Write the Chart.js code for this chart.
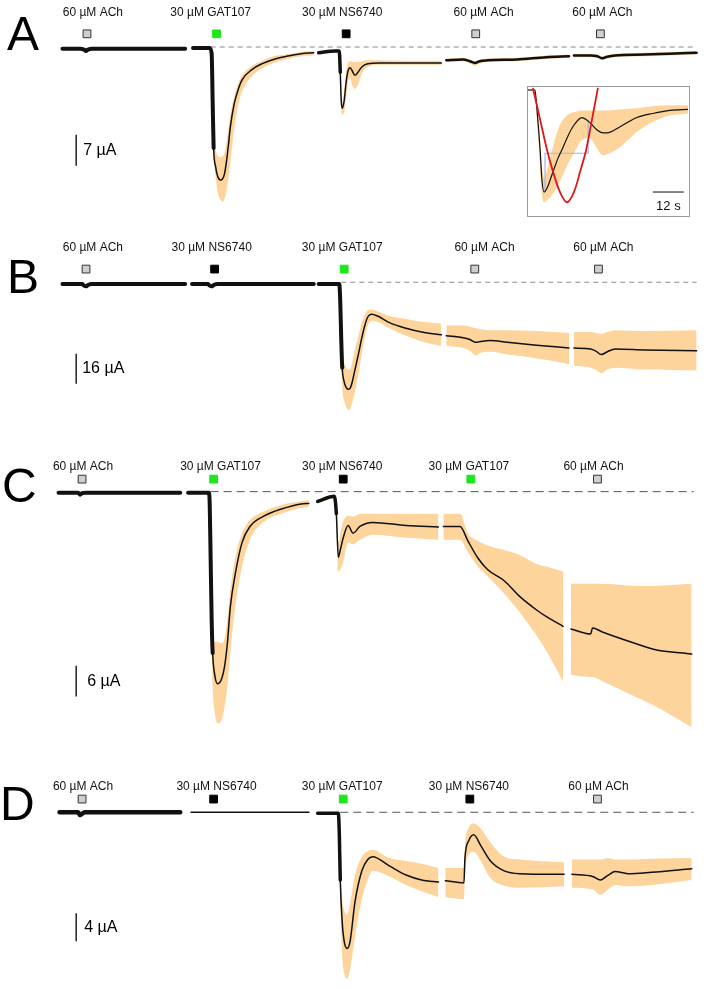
<!DOCTYPE html>
<html>
<head>
<meta charset="utf-8">
<script src="https://cdn.jsdelivr.net/npm/chart.js@4.4.0/dist/chart.umd.min.js"></script>
<style>
  html, body { margin: 0; padding: 0; background: #fff; }
  body { position: relative; width: 709px; height: 989px; overflow: hidden; }
  canvas { position: absolute; left: 0; }
  #inset { position: absolute; left: 527px; top: 86px; width: 163px; height: 131px;
           border: 1px solid #9a9a9a; box-sizing: border-box; background: #fff; }
  #inset canvas { top: 0; }
</style>
</head>
<body>
<canvas id="pA" width="709" height="225" style="top:0px"></canvas>
<canvas id="pB" width="709" height="215" style="top:225px"></canvas>
<canvas id="pC" width="709" height="330" style="top:440px"></canvas>
<canvas id="pD" width="709" height="219" style="top:770px"></canvas>
<div id="inset"><canvas id="pI" width="161" height="129"></canvas></div>

<script>
// === Data (time in s, current in µA, null = break between recordings) ===

// Panel A
const tA    = [2,20,24,26,28,32,127, 130,
  135,152,154,155,156,158,160,163,165,167,169,171,173,177,181,185,195,205,217,230,245,258, 261,
  263,280,284,285,286,287,289,291,293,295,297,300,303,307,313,325,345,365,388, 390,
  393,410,417,422,427,435,465,495,518, 520,
  523,540,547,552,557,565,595,620,648];
const meanA = [-0.4,-0.4,-0.6,-0.9,-0.6,-0.4,-0.4, null,
  -0.2,-0.2,-1.5,-12.1,-22.8,-27.0,-29.1,-30.0,-29.8,-28.7,-26.0,-22.3,-18.1,-12.8,-9.6,-7.4,-5.1,-3.8,-2.8,-2.1,-1.5,-1.3, null,
  -1.3,-0.9,-0.9,-5.7,-12.1,-13.8,-12.1,-7.9,-5.3,-4.7,-5.3,-6.4,-5.7,-4.5,-3.8,-3.6,-3.6,-3.6,-3.6, null,
  -3.0,-2.8,-3.2,-3.6,-3.2,-3.0,-2.8,-2.3,-2.1, null,
  -1.9,-1.9,-2.1,-2.55,-2.2,-1.9,-1.7,-1.5,-1.3];
const hiA   = [-0.2,-0.2,-0.4,-0.6,-0.3,-0.2,-0.2, null,
  -0.1,-0.1,-0.9,-11.1,-20.6,-23.2,-24.5,-24.9,-24.7,-24.0,-21.7,-18.5,-15.3,-11.1,-8.3,-6.4,-4.3,-3.2,-2.1,-1.7,-1.1,-0.9, null,
  -1.1,-0.7,-0.6,-4.7,-11.1,-12.8,-10.0,-5.3,-3.6,-3.2,-3.3,-3.4,-3.3,-3.2,-3.0,-3.0,-3.1,-3.1,-3.1, null,
  -2.6,-2.4,-2.8,-3.2,-2.8,-2.6,-2.4,-1.9,-1.7, null,
  -1.5,-1.5,-1.7,-2.1,-1.8,-1.5,-1.3,-1.1,-0.9];
const loA   = [-0.6,-0.6,-0.8,-1.2,-0.9,-0.6,-0.6, null,
  -0.3,-0.3,-1.9,-13.2,-23.8,-29.1,-32.6,-34.5,-34.9,-34.3,-32.6,-29.8,-26.0,-18.5,-13.2,-10.0,-6.6,-4.9,-3.6,-2.8,-2.1,-1.9, null,
  -1.5,-1.1,-1.1,-6.8,-13.8,-15.3,-14.7,-11.1,-7.9,-6.8,-8.5,-9.4,-8.5,-6.0,-4.5,-4.0,-4.0,-4.0,-4.0, null,
  -3.4,-3.2,-3.7,-4.2,-3.7,-3.4,-3.2,-2.7,-2.5, null,
  -2.3,-2.3,-2.5,-3.0,-2.6,-2.3,-2.1,-1.9,-1.7];
const drugsA  = ['ACh','GAT107','NS6740','ACh','ACh'];
const markA   = [27,159,291,423,550];
const labelTA = [33,153,287,431,552];
const scaleA  = 7;

// Panel B
const tB    = [2,22,24,26,28,32,127, 130,
  134,150,152,154,156,160,258, 260,
  263,284,285,286,287,289,291,293,295,297,300,303,307,310,313,317,323,335,352,368,388, 390,
  393,410,417,423,428,438,455,485,518, 520,
  523,540,545,551,557,565,595,648];
const meanB = [-1,-1,-1.8,-2.2,-1.5,-1,-1, null,
  -1,-1,-1.8,-2.2,-1.5,-1,-1, null,
  -1,-1,-10.5,-30.5,-45.5,-53,-56,-57,-56.5,-53.5,-46.5,-39.5,-29.5,-23,-18.5,-17,-18,-21.5,-24.5,-26.5,-28, null,
  -28.5,-29.5,-30.5,-32,-31.5,-31,-32,-33.5,-35, null,
  -35,-35.5,-36.5,-38.5,-37,-35.5,-36,-36.5];
const hiB   = [-0.6,-0.6,-1.4,-1.8,-1.1,-0.6,-0.6, null,
  -0.6,-0.6,-1.4,-1.8,-1.1,-0.6,-0.6, null,
  -0.5,-0.5,-8,-25.5,-38,-43,-45.5,-46.5,-46.5,-43,-35.5,-29.5,-21.5,-17,-15,-14.5,-15.5,-18,-19.5,-21,-22, null,
  -23,-23,-23.5,-24.5,-25,-25.5,-25.5,-26,-27, null,
  -26.5,-26.5,-27,-27.5,-26.5,-25.5,-26,-25.5];
const loB   = [-1.4,-1.4,-2.2,-2.6,-1.9,-1.4,-1.4, null,
  -1.4,-1.4,-2.2,-2.6,-1.9,-1.4,-1.4, null,
  -1.5,-1.5,-13,-38,-55.5,-63,-66.5,-68,-67.5,-64.5,-58,-50.5,-38,-29.5,-23,-20.5,-21,-24.5,-28.5,-31.5,-34, null,
  -34,-35,-36.5,-39,-37.5,-37,-38.5,-40.5,-43.5, null,
  -44.5,-45.5,-46.5,-48.5,-46.5,-45.5,-46.5,-47];
const drugsB  = ['ACh','NS6740','GAT107','ACh','ACh'];
const markB   = [26,157,289,422,548];
const labelTB = [33,154,287,432,553];
const scaleB  = 16;

// Panel C
const tC    = [-2,18,20,22,26,122, 126,
  130,151,152,153,154,155,157,160,164,167,170,173,178,185,193,208,225,245,253, 258,
  262,279,281,283,285,288,293,298,305,318,352,385, 388,
  390,407,415,425,435,452,468,485,495,512, 516,
  520,540,542,552,585,605,643];
const meanC = [-0.2,-0.2,-0.6,-0.3,-0.2,-0.2, null,
  -0.2,-0.2,-2.4,-13.7,-25.0,-31.5,-35.6,-37.5,-36.6,-34.3,-29.6,-22.5,-16.1,-9.9,-6.8,-4.7,-3.4,-2.4,-2.3, null,
  -1.9,-0.9,-4.3,-12.8,-11.4,-9.0,-6.6,-8.1,-6.8,-6.0,-6.6,-6.9, null,
  -6.8,-6.8,-9.6,-12.9,-15.2,-17.4,-20.5,-23.1,-24.4,-26.3, null,
  -26.8,-27.8,-26.6,-27.4,-29.6,-30.8,-31.7];
const hiC   = [0.1,0.1,-0.3,0,0.1,0.1, null,
  0,0,-1.5,-9.9,-21.2,-26.8,-29.3,-29.3,-29.6,-28.7,-25.0,-19.3,-12.8,-8.1,-5.6,-3.8,-2.6,-1.9,-1.7, null,
  -1.5,-0.6,-2.4,-9.9,-8.1,-5.8,-4.7,-4.9,-4.3,-4.3,-4.3,-4.3, null,
  -4.3,-4.3,-8.1,-9.6,-10.5,-11.4,-12.4,-14.1,-14.6,-15.6, null,
  -18.0,-18.0,-18.0,-18.0,-18.4,-18.4,-18.0];
const loC   = [-0.5,-0.5,-0.9,-0.6,-0.5,-0.5, null,
  -0.4,-0.4,-3.4,-17.4,-30.6,-38.1,-42.8,-45.2,-44.7,-42.2,-38.1,-31.5,-22.5,-14.6,-9.4,-5.8,-4.3,-3.2,-3.0, null,
  -2.3,-1.3,-6.2,-15.6,-15.2,-13.7,-9.9,-10.3,-9.4,-8.4,-9.0,-9.4, null,
  -9.4,-9.4,-11.8,-14.6,-16.5,-19.9,-23.6,-28.1,-31.1,-37.1, null,
  -35.8,-36.2,-36.2,-37.0,-40.0,-41.8,-46.0];
const drugsC  = ['ACh','GAT107','NS6740','GAT107','ACh'];
const markC   = [22,156,288,418,547];
const labelTC = [23,163,287,416,543];
const scaleC  = 6;

// Panel D
const tD    = [-1,18,20,22,25,122, 128,
  133,253, 258,
  262,283,284,285,287,289,292,295,300,307,313,318,335,352,368,385, 389,
  392,411,412,416,421,428,438,452,468,513, 517,
  521,542,550,558,565,578,602,643];
const meanD = [0,0,-0.4,-0.2,0,0, null,
  0,0, null,
  -0.13,-0.13,-2.9,-9.6,-15.6,-18.3,-19.3,-18.3,-12.7,-8.3,-6.7,-6.3,-7.6,-8.9,-9.6,-9.9, null,
  -9.7,-10.0,-6.5,-4.0,-3.2,-4.7,-6.9,-8.3,-8.7,-8.8, null,
  -8.8,-9.1,-9.6,-8.9,-8.4,-8.7,-8.5,-8.0];
const hiD   = [0.15,0.15,-0.25,-0.05,0.15,0.15, null,
  0,0, null,
  0,0,-1.6,-6.9,-12.3,-13.9,-14.5,-12.9,-8.9,-6.3,-5.5,-5.3,-6.5,-6.9,-7.3,-7.9, null,
  -7.9,-7.9,-4.7,-2.2,-1.6,-2.3,-4.3,-6.3,-6.7,-7.1, null,
  -6.7,-6.7,-6.7,-6.5,-6.7,-6.7,-6.6,-6.5];
const loD   = [-0.15,-0.15,-0.55,-0.35,-0.15,-0.15, null,
  0,0, null,
  -0.27,-0.27,-4.3,-12.3,-20.3,-22.9,-23.6,-22.3,-17.6,-12.3,-9.6,-8.3,-9.1,-10.3,-11.2,-12.0, null,
  -12.0,-12.3,-9.0,-6.0,-5.6,-6.9,-9.3,-10.4,-10.7,-10.5, null,
  -10.7,-10.9,-11.7,-10.9,-10.3,-10.5,-10.3,-9.6];
const drugsD  = ['ACh','NS6740','GAT107','NS6740','ACh'];
const markD   = [22,156,288,417,547];
const labelTD = [23,159,287,416,548];
const scaleD  = 4;

// Inset (NS6740 response of panel A, normalised)
const insetT    = [0,2.7,3.5,4.7,5.4,6.2,7.4,9.3,11.6,13.6,15.5,17.4,20.9,24.0,26.7,29.1,30.6,35.7,42.2,48.4,55.0,62.0];
const insetMean = [0,0,-0.2,-0.59,-0.88,-1.0,-0.96,-0.83,-0.67,-0.56,-0.45,-0.36,-0.27,-0.32,-0.39,-0.42,-0.42,-0.36,-0.27,-0.23,-0.2,-0.19];
const insetHi   = [0.01,0.01,-0.15,-0.49,-0.74,-0.86,-0.78,-0.59,-0.39,-0.29,-0.24,-0.22,-0.2,-0.2,-0.2,-0.2,-0.2,-0.19,-0.18,-0.16,-0.15,-0.15];
const insetLo   = [-0.01,-0.01,-0.29,-0.78,-1.03,-1.1,-1.08,-1.03,-0.93,-0.83,-0.72,-0.64,-0.49,-0.47,-0.57,-0.64,-0.63,-0.56,-0.41,-0.31,-0.25,-0.23];
const fitT      = [1.9,4.7,7.4,9.7,12.4,15.1,17.8,20.2,22.5,24.8,27.1];
const fitV      = [0.02,-0.29,-0.59,-0.8,-1.0,-1.1,-1.0,-0.8,-0.59,-0.29,0.02];
const halfT     = [6.6,6.6,23.3,23.3];
const halfV     = [-1.0,-0.62,-0.62,-0.29];
const insetScale = 12;

// === Styles ===
const ORANGE = '#fdd49c';
const drugFill = { ACh: '#cfcfcf', GAT107: '#1de61d', NS6740: '#000000' };
const drugEdge = { ACh: '#333333', GAT107: '#1de61d', NS6740: '#000000' };
const FONT = '"Liberation Sans", Arial, sans-serif';

function splitRuns(t, ys) {
  const runs = [];
  let cur = [];
  t.forEach((x, i) => {
    if (ys[i] === null) {
      if (cur.length) runs.push(cur);
      cur = [];
    } else {
      cur.push({ x, y: ys[i] });
    }
  });
  if (cur.length) runs.push(cur);
  return runs;
}

function widthFor(ranges, ctx) {
  const a = ctx.p0.parsed.x, b = ctx.p1.parsed.x;
  for (const [t0, t1, w] of ranges) {
    if (a >= t0 && b <= t1) return w;
  }
  return 1.5;
}

function drawPanel(id, p) {
  const ds = [];
  const meanRuns = splitRuns(p.t, p.mean);
  const hiRuns = splitRuns(p.t, p.hi);
  const loRuns = splitRuns(p.t, p.lo);

  // mean traces
  meanRuns.forEach(run => ds.push({
    data: run, borderColor: '#111', borderWidth: 1.5, borderCapStyle: 'round',
    cubicInterpolationMode: 'monotone', pointRadius: 0, order: 1,
    segment: { borderWidth: ctx => widthFor(p.bold, ctx) }
  }));

  // drug application markers
  ds.push({
    data: p.marks.map(m => ({ x: m, y: p.markY })), showLine: false,
    pointStyle: 'rect', pointRadius: 5.5, pointBorderWidth: 1,
    pointBackgroundColor: p.drugs.map(d => drugFill[d]),
    pointBorderColor: p.drugs.map(d => drugEdge[d]), order: 0
  });

  // zero current
  ds.push({
    data: p.zero.map(x => ({ x, y: 0 })), borderColor: p.dashColor, borderWidth: 1,
    borderDash: p.dash, pointRadius: 0, order: 3
  });

  // scale bar
  ds.push({
    data: [{ x: p.barT, y: p.barY }, { x: p.barT, y: p.barY - p.scale }],
    borderColor: '#222', borderWidth: 1.5, pointRadius: 0, order: 0
  });

  // SEM bands
  loRuns.forEach((run, i) => {
    const loIdx = ds.length;
    ds.push({ data: run, borderWidth: 0, borderColor: 'transparent', pointRadius: 0,
      fill: false, cubicInterpolationMode: 'monotone', order: 5 });
    ds.push({ data: hiRuns[i], borderWidth: 0, borderColor: 'transparent', pointRadius: 0,
      fill: loIdx, backgroundColor: ORANGE, cubicInterpolationMode: 'monotone', order: 5 });
  });

  new Chart(document.getElementById(id), {
    type: 'line',
    data: { datasets: ds },
    options: {
      responsive: false, animation: false, events: [],
      layout: { padding: 0 },
      scales: {
        x: { type: 'linear', min: -55, max: 654, display: false },
        y: { min: p.yMin, max: p.yMax, display: false }
      },
      plugins: { legend: { display: false }, tooltip: { enabled: false } }
    },
    plugins: [{
      id: 'panelText',
      afterDraw(chart) {
        const { ctx, scales: { x, y } } = chart;
        ctx.save();
        ctx.fillStyle = '#111';
        ctx.textAlign = 'center';
        ctx.textBaseline = 'alphabetic';
        ctx.font = '12px ' + FONT;
        const ly = y.getPixelForValue(p.markY) - p.labelDy;
        p.labelT.forEach((lt, i) => {
          const name = (p.drugs[i] === 'ACh' ? '60 µM ' : '30 µM ') + p.drugs[i];
          ctx.fillText(name, x.getPixelForValue(lt), ly);
        });
        ctx.textAlign = 'left';
        ctx.fillStyle = '#000';
        ctx.font = '48px ' + FONT;
        ctx.fillText(p.letter, p.letterX, p.letterY);
        ctx.font = '16px ' + FONT;
        ctx.textBaseline = 'middle';
        ctx.fillText(p.scale + ' µA', x.getPixelForValue(p.barT) + p.barDx,
          y.getPixelForValue(p.barY - p.scale / 2));
        ctx.restore();
      }
    }]
  });
}

drawPanel('pA', {
  t: tA, mean: meanA, hi: hiA, lo: loA, drugs: drugsA, marks: markA, labelT: labelTA,
  scale: scaleA, yMin: -38.72, yMax: 9.15, markY: 2.98, labelDy: 18,
  zero: [153, 648], dash: [5, 4], dashColor: '#8a8a8a',
  bold: [[0, 156, 4], [262, 285, 3.5], [392, 650, 2.5]],
  barT: 16, barY: -19.8, barDx: 7, letter: 'A', letterX: 7, letterY: 50
});
drawPanel('pB', {
  t: tB, mean: meanB, hi: hiB, lo: loB, drugs: drugsB, marks: markB, labelT: labelTB,
  scale: scaleB, yMin: -80.5, yMax: 27, markY: 7, labelDy: 18,
  zero: [286, 648], dash: [5, 4], dashColor: '#8a8a8a',
  bold: [[0, 288, 4]],
  barT: 16, barY: -38, barDx: 6, letter: 'B', letterX: 7, letterY: 68
});
drawPanel('pC', {
  t: tC, mean: meanC, hi: hiC, lo: loC, drugs: drugsC, marks: markC, labelT: labelTC,
  scale: scaleC, yMin: -53.06, yMax: 8.81, markY: 2.44, labelDy: 9,
  zero: [153, 645], dash: [8, 5], dashColor: '#555',
  bold: [[-5, 155, 4], [262, 281, 3.5]],
  barT: 16, barY: -34, barDx: 11, letter: 'C', letterX: 2, letterY: 62
});
drawPanel('pD', {
  t: tD, mean: meanD, hi: hiD, lo: loD, drugs: drugsD, marks: markD, labelT: labelTD,
  scale: scaleD, yMin: -24.13, yMax: 5.07, markY: 1.87, labelDy: 9,
  zero: [285, 645], dash: [8, 5], dashColor: '#555',
  bold: [[-5, 125, 4.5], [262, 285, 3.5]],
  barT: 16, barY: -14.3, barDx: 8, letter: 'D', letterX: 0, letterY: 50
});

// === Inset ===
const pts = (xs, ys) => xs.map((x, i) => ({ x, y: ys[i] }));
new Chart(document.getElementById('pI'), {
  type: 'line',
  data: {
    datasets: [
      { data: pts(insetT, insetMean), borderColor: '#111', borderWidth: 1.2, pointRadius: 0,
        cubicInterpolationMode: 'monotone', order: 1 },
      { data: pts(fitT, fitV), borderColor: '#e0161b', borderWidth: 1.8, pointRadius: 0,
        tension: 0.35, order: 0 },
      { data: pts(halfT, halfV), borderColor: '#9db4e6', borderWidth: 1.2, pointRadius: 0, order: 2 },
      { data: [{ x: 48.4, y: -1.0 }, { x: 48.4 + insetScale, y: -1.0 }], borderColor: '#333',
        borderWidth: 1.2, pointRadius: 0, order: 0 },
      { data: pts(insetT, insetLo), borderWidth: 0, borderColor: 'transparent', pointRadius: 0,
        fill: false, cubicInterpolationMode: 'monotone', order: 5 },
      { data: pts(insetT, insetHi), borderWidth: 0, borderColor: 'transparent', pointRadius: 0,
        fill: 4, backgroundColor: ORANGE, cubicInterpolationMode: 'monotone', order: 5 }
    ]
  },
  options: {
    responsive: false, animation: false, events: [],
    layout: { padding: 0 },
    scales: {
      x: { type: 'linear', min: 0, max: 62.4, display: false },
      y: { min: -1.235, max: 0.0294, display: false }
    },
    plugins: { legend: { display: false }, tooltip: { enabled: false } }
  },
  plugins: [{
    id: 'insetText',
    afterDraw(chart) {
      const { ctx, scales: { x, y } } = chart;
      ctx.save();
      ctx.fillStyle = '#111';
      ctx.font = '13px ' + FONT;
      ctx.textAlign = 'center';
      ctx.textBaseline = 'middle';
      ctx.fillText(insetScale + ' s', x.getPixelForValue(48.4 + insetScale / 2), y.getPixelForValue(-1.0) + 14);
      ctx.restore();
    }
  }]
});
</script>
</body>
</html>
